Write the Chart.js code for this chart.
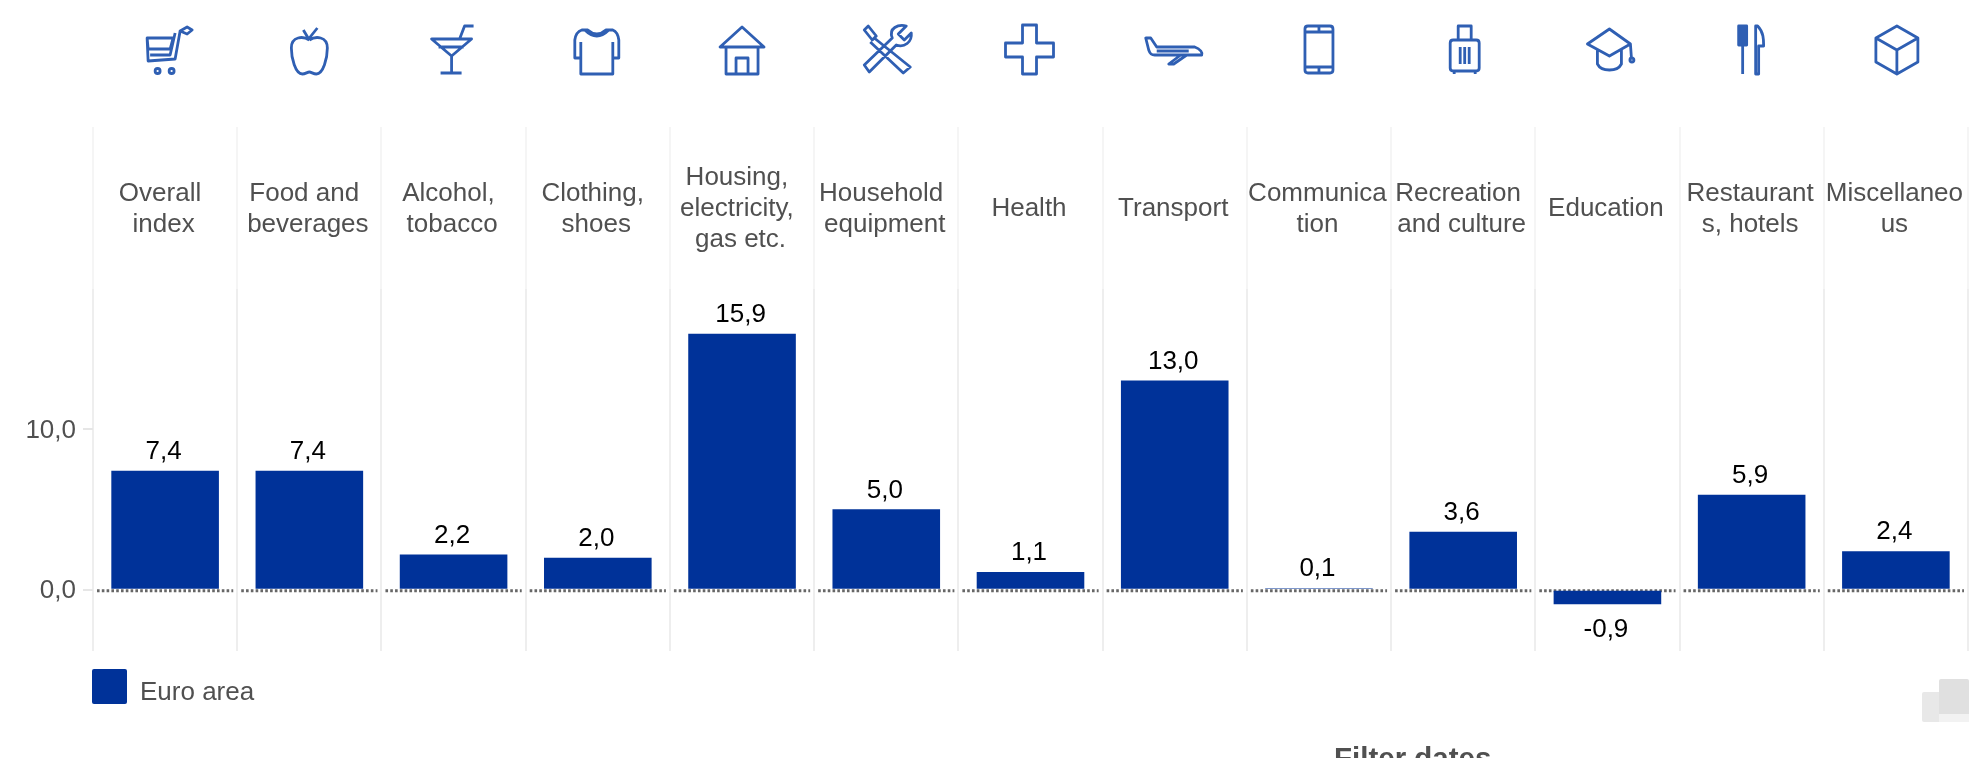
<!DOCTYPE html>
<html>
<head>
<meta charset="utf-8">
<title>Inflation by category</title>
<script src="https://cdn.jsdelivr.net/npm/chart.js@4"></script>
<style>
  html, body { margin: 0; padding: 0; background: #fff; overflow: hidden; }
  #wrap { position: relative; width: 1984px; height: 758px; overflow: hidden; }
  #weightChart { position: absolute; left: 0; top: 0; }
  .filter-title { position: absolute; left: 1334px; top: 741px; font: bold 29.5px "Liberation Sans", Arial, sans-serif; color: #505050; white-space: nowrap; }
  .legend-box { position: absolute; left: 92px; top: 669px; width: 35px; height: 35px; border-radius: 2px; background: #003299; }
  .legend-text { position: absolute; left: 140px; top: 674px; font: 26px/35px "Liberation Sans", Arial, sans-serif; color: #505050; white-space: nowrap; }
  .corner { position: absolute; }
</style>
</head>
<body>
<div id="wrap">
  <canvas id="weightChart" width="1984" height="758"></canvas>
  <div class="legend-box"></div>
  <div class="legend-text" id="legendText"></div>
  <div class="filter-title">Filter dates</div>
  <div class="corner" style="left:1922px;top:692px;width:17px;height:30px;background:#e8e8e8;border-radius:2px 0 0 2px"></div>
  <div class="corner" style="left:1939px;top:679px;width:30px;height:35px;background:#e0e0e0;border-radius:2px 2px 0 0"></div>
  <div class="corner" style="left:1939px;top:714px;width:30px;height:8px;background:#f2f2f2"></div>
</div>
<script>
  // line breaks follow the narrow columns of the original, so the odd splits are on purpose
  const categories = [
    ["Overall ", "index"],
    ["Food and ", "beverages"],
    ["Alcohol, ", "tobacco"],
    ["Clothing, ", "shoes"],
    ["Housing, ", "electricity, ", "gas etc."],
    ["Household ", "equipment"],
    ["Health"],
    ["Transport"],
    ["Communica", "tion"],
    ["Recreation ", "and culture"],
    ["Education"],
    ["Restaurant", "s, hotels"],
    ["Miscellaneo", "us"],
  ];
  const seriesName = "Euro area";
  const euroArea = [7.4, 7.4, 2.2, 2.0, 15.9, 5.0, 1.1, 13.0, 0.1, 3.6, -0.9, 5.9, 2.4];
  const yTicks = [0, 10];

  const BLUE = "#003299";
  const TEXT = "#505050";
  const FONT = "Liberation Sans";

  // one outline per category, drawn around the centre of its column
  const icons = [
    "M-18,-12 H8 L5,-1 H-17 Z M15,-19 L10,9 L-17,11 L-18,-12 M-15,5 L5,5 L10,-17 M15,-19 L22,-23 L27,-20 L22,-16 Z M-10,21 a2.5,2.5 0 1,0 5,0 a2.5,2.5 0 1,0 -5,0 M4,21 a2.5,2.5 0 1,0 5,0 a2.5,2.5 0 1,0 -5,0",
    "M0,-10 C-6,-14 -18,-14 -18,-2 C-18,8 -14,24 -7,24 C-4,24 -2,22 0,22 C2,22 4,24 7,24 C14,24 18,8 18,-2 C18,-14 6,-14 0,-10 M0,-10 L-6,-20 M0,-12 L8,-22",
    "M-22,-11 H18 L-2,6 Z M-15,-3 H10 M-2,6 V23 M-13,23 H8 M6,-11 L11,-24 H20",
    "M-10,-20 Q-1,-12 8,-20 H15 Q20,-18 21,-10 V8 H15 V24 H-17 V8 H-23 V-10 Q-22,-18 -16,-20 Z M15,-8 V8 M-17,-8 V8 M-13,-20 Q-1,-8 11,-20",
    "M-22,-3 L0,-23 L22,-3 Z M-16,-3 V24 H16 V-3 M-6,24 V8 H6 V24",
    "M-22,-20 L-18,-24 L-10,-14 L-14,-10 Z M-12,-12 L24,17 L17,23 L-16,-8 M-22,15 L6,-12 C2,-22 12,-26 20,-24 L12,-16 L18,-10 L25,-17 C26,-8 18,-2 10,-5 L-17,22 Z",
    "M-8,-25 H6 V-7 H23 V7 H6 V24 H-8 V7 H-25 V-7 H-8 Z",
    "M-29,-12 L-24,-12 L-18,-3 L20,-3 C26,-1 28,3 27,5 L-20,5 C-24,5 -25,3 -26,0 Z M6,5 L-6,14 L-1,14 L12,5 M-18,1 H14",
    "M-14,-21 Q-14,-24 -11,-24 H11 Q14,-24 14,-21 V20 Q14,23 11,23 H-11 Q-14,23 -14,20 Z M-14,-18 H14 M-14,17 H14 M0,-24 V-18 M0,17 V23",
    "M-13,-7 Q-13,-10 -10,-10 H13 Q16,-10 16,-7 V18 Q16,21 13,21 H-10 Q-13,21 -13,18 Z M-5,-10 V-24 H8 V-10 M-3,-3 V14 M1.5,-3 V14 M6,-3 V14 M-9,21 V24 M12,21 V24",
    "M2,-21 L23,-6 L2,6 L-20,-6 Z M-10,0 V14 C-6,22 10,22 14,14 V0 M23,-6 L24,8 M22.5,10 a2,2 0 1,0 4,0 a2,2 0 1,0 -4,0",
    "M-13,-24 H-5 V-5 H-13 Z M-11,-24 V-5 M-9,-24 V24 M-7,-24 V-5 M6,-24 C12,-18 12,-10 12,-4 H7 V24 H4 V-24 Z",
    "M1,-24 L22,-12 V12 L1,24 L-20,12 V-12 Z M-20,-12 L1,0 L22,-12 M1,0 V24",
  ];

  function comma(v) {
    return v.toFixed(1).replace(".", ",");
  }

  document.getElementById("legendText").textContent = seriesName;

  const iconsPlugin = {
    id: "icons",
    afterDraw(chart) {
      const { ctx, scales } = chart;
      ctx.save();
      ctx.strokeStyle = "#2f5fb3";
      ctx.lineWidth = 2.8;
      ctx.lineJoin = "round";
      icons.forEach((d, i) => {
        ctx.save();
        ctx.translate(scales.x.getPixelForValue(i), 50);
        ctx.stroke(new Path2D(d));
        ctx.restore();
      });
      ctx.restore();
    },
  };

  // dotted zero line, broken at each column border
  const zeroLine = {
    id: "zeroLine",
    beforeDatasetsDraw(chart) {
      const { ctx, scales } = chart;
      const y = scales.y.getPixelForValue(0) + 1;
      const half = (scales.x.getPixelForValue(1) - scales.x.getPixelForValue(0)) / 2;
      ctx.save();
      ctx.strokeStyle = "#666666";
      ctx.lineWidth = 3;
      ctx.setLineDash([2.6, 2.2]);
      categories.forEach((c, i) => {
        const cx = scales.x.getPixelForValue(i);
        ctx.beginPath();
        ctx.moveTo(cx - half + 4, y);
        ctx.lineTo(cx + half - 4, y);
        ctx.stroke();
      });
      ctx.restore();
    },
  };

  const valueLabels = {
    id: "valueLabels",
    afterDatasetsDraw(chart) {
      const { ctx, scales } = chart;
      ctx.save();
      ctx.fillStyle = "#000";
      ctx.font = "26px '" + FONT + "'";
      ctx.textAlign = "center";
      ctx.textBaseline = "middle";
      chart.getDatasetMeta(0).data.forEach((bar, i) => {
        const v = euroArea[i];
        const offset = v < 0 ? 26 : -19;
        ctx.fillText(comma(v), scales.x.getPixelForValue(i) - 1.5, bar.y + offset);
      });
      ctx.restore();
    },
  };

  // the category labels sit inside the plot, so their box gets stretched
  // once the layout is done
  const moveLabels = {
    id: "moveLabels",
    afterLayout(chart) {
      chart.scales.x.bottom = 300;
    },
  };

  new Chart(document.getElementById("weightChart").getContext("2d"), {
    type: "bar",
    data: {
      labels: categories,
      datasets: [
        {
          label: seriesName,
          data: euroArea,
          backgroundColor: BLUE,
          barPercentage: 0.746,
          categoryPercentage: 1,
        },
      ],
    },
    options: {
      responsive: false,
      animation: false,
      devicePixelRatio: 1,
      layout: { padding: { top: 127, right: 16, bottom: 107, left: 0 } },
      plugins: {
        tooltip: { enabled: false },
        legend: { display: false },
      },
      scales: {
        x: {
          position: "top",
          offset: true,
          afterFit(scale) {
            scale.height = 0;
            scale.paddingLeft = 0;
            scale.paddingRight = 0;
          },
          border: { display: false },
          grid: {
            offset: true,
            drawTicks: false,
            lineWidth: 2,
            color(ctx) {
              const area = ctx.chart.chartArea;
              const g = ctx.chart.ctx.createLinearGradient(0, area.top, 0, area.bottom);
              g.addColorStop(0, "#f5f5f5");
              g.addColorStop(0.309, "#f5f5f5");
              g.addColorStop(0.31, "#eeeeee");
              g.addColorStop(1, "#eeeeee");
              return g;
            },
          },
          ticks: {
            autoSkip: false,
            maxRotation: 0,
            minRotation: 0,
            padding: 60,
            crossAlign: "center",
            labelOffset: -1.5,
            color: TEXT,
            font: { family: FONT, size: 26, lineHeight: 1.19 },
          },
        },
        y: {
          min: -3.8,
          max: 28.75,
          afterFit(scale) {
            scale.width = 93;
          },
          afterBuildTicks(scale) {
            scale.ticks = yTicks.map((v) => ({ value: v }));
          },
          border: { display: false },
          grid: {
            drawOnChartArea: false,
            color: "#e6e6e6",
            lineWidth: 2,
            tickLength: 10,
          },
          ticks: {
            padding: 7,
            labelOffset: 1.5,
            color: TEXT,
            font: { family: FONT, size: 26 },
            callback: (v) => comma(v),
          },
        },
      },
    },
    plugins: [zeroLine, valueLabels, iconsPlugin, moveLabels],
  });
</script>
</body>
</html>
